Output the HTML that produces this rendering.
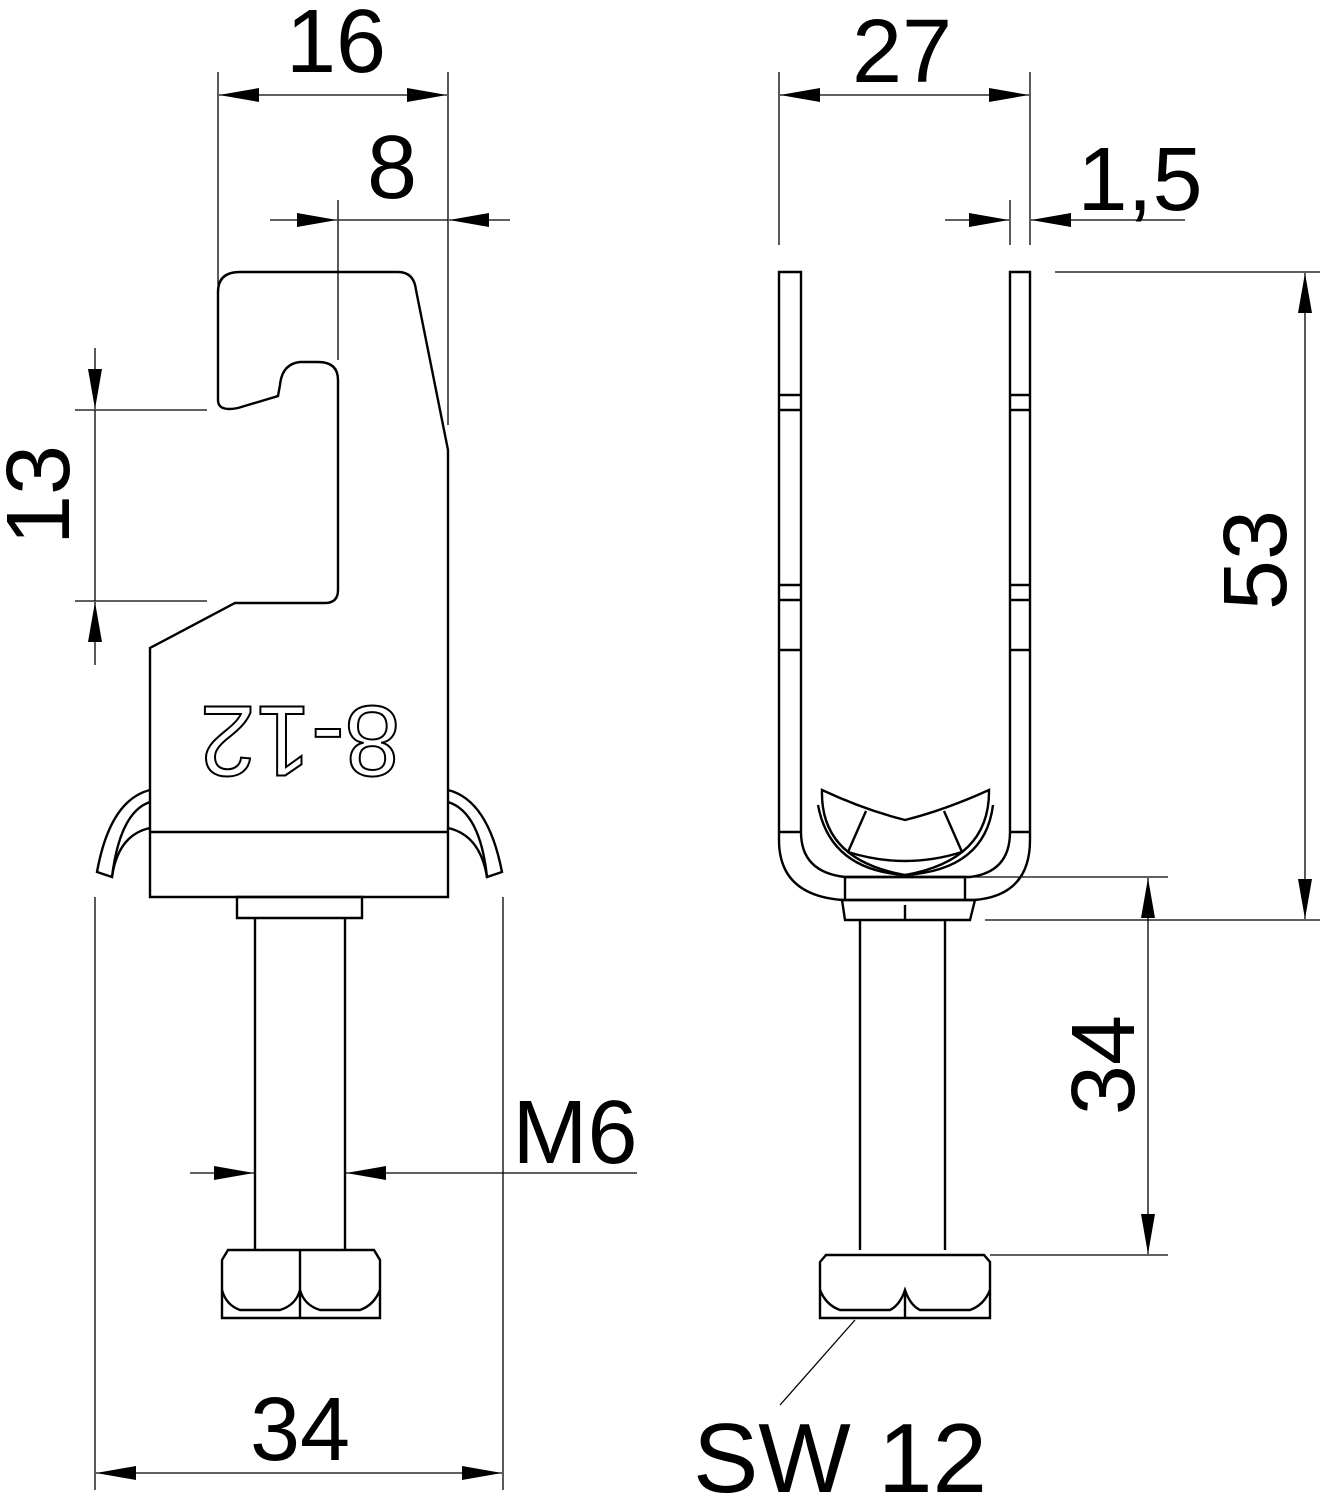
<!DOCTYPE html>
<html><head><style>body{margin:0;background:#fff}svg{display:block}</style></head><body>
<svg width="1330" height="1500" viewBox="0 0 1330 1500" xmlns="http://www.w3.org/2000/svg" font-family="Liberation Sans, sans-serif">
<defs>
<marker id="a" viewBox="0 0 40 14" refX="40" refY="7" markerWidth="40" markerHeight="14" markerUnits="userSpaceOnUse" orient="auto"><path d="M0,0 L40,7 L0,14 Z" fill="#000"/></marker>
</defs>
<g stroke="#000" stroke-width="2.4" fill="none">
<!-- LEFT VIEW dims -->
<line x1="218" y1="72" x2="218" y2="285" stroke-width="1.3"/>
<line x1="448" y1="72" x2="448" y2="425" stroke-width="1.3"/>
<line x1="330" y1="95" x2="219" y2="95" stroke-width="1.3" marker-end="url(#a)"/>
<line x1="330" y1="95" x2="447" y2="95" stroke-width="1.3" marker-end="url(#a)"/>
<line x1="338" y1="200" x2="338" y2="360" stroke-width="1.3"/>
<line x1="270" y1="220" x2="337" y2="220" stroke-width="1.3" marker-end="url(#a)"/>
<line x1="338" y1="220" x2="448" y2="220" stroke-width="1.3"/>
<line x1="510" y1="220" x2="449" y2="220" stroke-width="1.3" marker-end="url(#a)"/>
<line x1="75" y1="410" x2="207" y2="410" stroke-width="1.3"/>
<line x1="75" y1="601" x2="207" y2="601" stroke-width="1.3"/>
<line x1="95" y1="348" x2="95" y2="409" stroke-width="1.3" marker-end="url(#a)"/>
<line x1="95" y1="410" x2="95" y2="601" stroke-width="1.3"/>
<line x1="95" y1="665" x2="95" y2="602" stroke-width="1.3" marker-end="url(#a)"/>
<line x1="95" y1="897" x2="95" y2="1490" stroke-width="1.3"/>
<line x1="503" y1="897" x2="503" y2="1490" stroke-width="1.3"/>
<line x1="300" y1="1473" x2="96" y2="1473" stroke-width="1.3" marker-end="url(#a)"/>
<line x1="300" y1="1473" x2="502" y2="1473" stroke-width="1.3" marker-end="url(#a)"/>
<line x1="190" y1="1173" x2="254" y2="1173" stroke-width="1.3" marker-end="url(#a)"/>
<line x1="637" y1="1173" x2="346" y2="1173" stroke-width="1.3" marker-end="url(#a)"/>
<!-- LEFT body -->
<path d="M218,400 L218,292 Q218,272 240,272 L398,272 Q414,272 416,290 L448,450 L448,897 L150,897 L150,648 L235,603 L325,603 Q338,603 338,590 L338,380 Q338,362 318,362 L300,362 Q282,364 280,385 L278,396 L238,408 Q218,412 218,400 Z"/>
<line x1="150" y1="832" x2="448" y2="832"/>
<path d="M150,790 Q110,800 97,872 L112,877 Q120,812 150,802"/>
<path d="M150,828 Q118,835 112,877"/>
<path d="M448,790 Q488,800 502,872 L487,877 Q480,812 448,802"/>
<path d="M448,828 Q480,835 487,877"/>
<text x="300" y="733" font-size="100" fill="#fff" stroke="#000" stroke-width="2" text-anchor="middle" transform="rotate(180 300 733)" dominant-baseline="middle">8-12</text>
<path d="M237,897 L362,897 L362,918 L237,918 Z"/>
<line x1="255" y1="918" x2="255" y2="1250"/>
<line x1="345" y1="918" x2="345" y2="1250"/>
<path d="M222,1260 L228,1250 L374,1250 L380,1260 L380,1318 L222,1318 Z"/>
<line x1="300" y1="1250" x2="300" y2="1318"/>
<path d="M222,1290 Q226,1305 240,1310 L280,1310 Q296,1305 300,1290 Q304,1305 320,1310 L360,1310 Q374,1305 380,1290"/>
<!-- RIGHT dims -->
<line x1="779" y1="72" x2="779" y2="245" stroke-width="1.3"/>
<line x1="1030" y1="72" x2="1030" y2="245" stroke-width="1.3"/>
<line x1="900" y1="95" x2="780" y2="95" stroke-width="1.3" marker-end="url(#a)"/>
<line x1="900" y1="95" x2="1029" y2="95" stroke-width="1.3" marker-end="url(#a)"/>
<line x1="1010" y1="200" x2="1010" y2="245" stroke-width="1.3"/>
<line x1="945" y1="220" x2="1009" y2="220" stroke-width="1.3" marker-end="url(#a)"/>
<line x1="1185" y1="220" x2="1031" y2="220" stroke-width="1.3" marker-end="url(#a)"/>
<line x1="1055" y1="272" x2="1320" y2="272" stroke-width="1.3"/>
<line x1="985" y1="920" x2="1320" y2="920" stroke-width="1.3"/>
<line x1="1305" y1="600" x2="1305" y2="273" stroke-width="1.3" marker-end="url(#a)"/>
<line x1="1305" y1="600" x2="1305" y2="919" stroke-width="1.3" marker-end="url(#a)"/>
<line x1="960" y1="877" x2="1168" y2="877" stroke-width="1.3"/>
<line x1="990" y1="1255" x2="1168" y2="1255" stroke-width="1.3"/>
<line x1="1148" y1="1060" x2="1148" y2="878" stroke-width="1.3" marker-end="url(#a)"/>
<line x1="1148" y1="1060" x2="1148" y2="1254" stroke-width="1.3" marker-end="url(#a)"/>
<line x1="855" y1="1320" x2="780" y2="1405" stroke-width="1.3"/>
<!-- RIGHT U -->
<path d="M779,272 L801,272 L801,832 Q801,872 845,877 L970,877 Q1010,872 1010,832 L1010,272 L1030,272 L1030,840 Q1030,895 975,900 L842,900 Q779,895 779,840 Z"/>
<line x1="779" y1="395" x2="801" y2="395"/><line x1="779" y1="410" x2="801" y2="410"/>
<line x1="1010" y1="395" x2="1030" y2="395"/><line x1="1010" y1="410" x2="1030" y2="410"/>
<line x1="779" y1="585" x2="801" y2="585"/><line x1="779" y1="600" x2="801" y2="600"/>
<line x1="1010" y1="585" x2="1030" y2="585"/><line x1="1010" y1="600" x2="1030" y2="600"/>
<line x1="779" y1="650" x2="801" y2="650"/><line x1="1010" y1="650" x2="1030" y2="650"/>
<line x1="779" y1="832" x2="801" y2="832"/><line x1="1010" y1="832" x2="1030" y2="832"/>
<path d="M822,790 Q865,810 905,820 Q945,810 989,790 Q990,860 905,875 Q820,860 822,790 Z"/>
<path d="M818,805 Q830,870 905,875 Q985,870 993,805"/>
<line x1="866" y1="811" x2="848" y2="852"/><line x1="944" y1="811" x2="962" y2="852"/>
<path d="M848,852 Q905,870 962,852"/>
<path d="M845,877 L965,877 L965,900 M845,877 L845,900"/>
<path d="M842,900 L975,900 L970,920 L845,920 Z"/>
<line x1="905" y1="905" x2="905" y2="920"/>
<line x1="860" y1="920" x2="860" y2="1250"/>
<line x1="945" y1="920" x2="945" y2="1250"/>
<path d="M820,1262 L826,1255 L984,1255 L990,1262 L990,1318 L820,1318 Z"/>
<path d="M820,1290 Q826,1305 840,1310 L890,1310 Q900,1305 905,1290 Q910,1305 920,1310 L970,1310 Q984,1305 990,1290"/>
<line x1="905" y1="1290" x2="905" y2="1318"/>
</g>
<g font-size="90" fill="#000" text-anchor="middle">
<text x="336" y="72">16</text>
<text x="392" y="198">8</text>
<text x="45" y="495" transform="rotate(-90 45 495)" dominant-baseline="middle">13</text>
<text x="300" y="1460">34</text>
<text x="575" y="1163">M6</text>
<text x="902" y="82">27</text>
<text x="1140" y="210">1,5</text>
<text x="1262" y="560" transform="rotate(-90 1262 560)" dominant-baseline="middle">53</text>
<text x="1110" y="1065" transform="rotate(-90 1110 1065)" dominant-baseline="middle">34</text>
<text x="840" y="1492" font-size="98">SW 12</text>
</g>
</svg>
</body></html>
